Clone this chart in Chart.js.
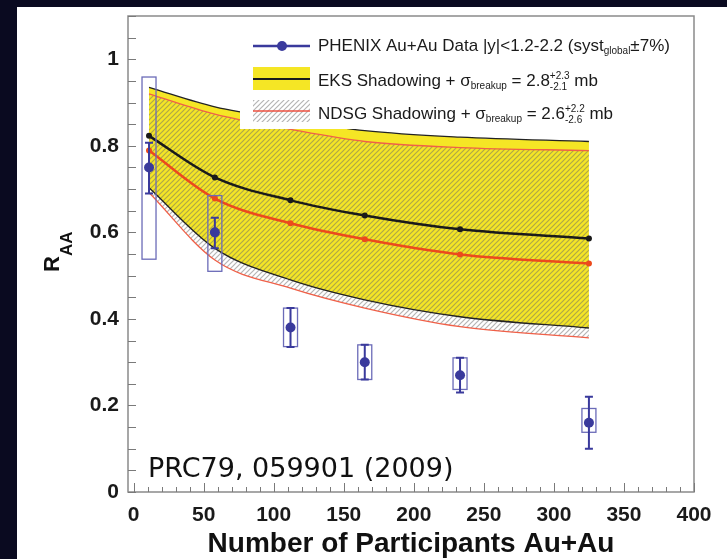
<!DOCTYPE html>
<html>
<head>
<meta charset="utf-8">
<script src="https://cdn.jsdelivr.net/npm/chart.js@4.4.1/dist/chart.umd.min.js"></script>
<style>
  html, body { margin: 0; padding: 0; background: #0a0a20; width: 727px; height: 559px; overflow: hidden; }
  #panel { position: absolute; left: 17px; top: 7px; width: 710px; height: 552px; background: #fff; }
</style>
</head>
<body>
<div id="panel"><canvas id="raa" width="710" height="552"></canvas></div>
<script>
// --- DATA ---
const npart = [11, 58, 112, 165, 233, 325];

// PHENIX Au+Au J/psi, forward rapidity
const phenixRaa = [0.75, 0.60, 0.38, 0.30, 0.27, 0.16];
const statLow   = [0.69, 0.563, 0.335, 0.26, 0.23, 0.10];
const statHigh  = [0.807, 0.634, 0.425, 0.34, 0.31, 0.22];
const systLow   = [0.538, 0.51, 0.336, 0.26, 0.237, 0.138];
const systHigh  = [0.959, 0.685, 0.425, 0.34, 0.31, 0.193];

// EKS shadowing band
const eksCenter = [0.823, 0.727, 0.674, 0.639, 0.607, 0.586];
const eksUpper  = [0.935, 0.89, 0.86, 0.835, 0.82, 0.81];
const eksLower  = [0.703, 0.563, 0.49, 0.444, 0.405, 0.379];

// NDSG shadowing band
const ndsgCenter = [0.789, 0.678, 0.621, 0.584, 0.549, 0.528];
const ndsgUpper  = [0.92, 0.873, 0.838, 0.81, 0.796, 0.789];
const ndsgLower  = [0.692, 0.536, 0.471, 0.425, 0.382, 0.356];

// axes
const xTickValues = [0, 50, 100, 150, 200, 250, 300, 350, 400];
const xTickLabels = ['0', '50', '100', '150', '200', '250', '300', '350', '400'];
const yTickValues = [0, 0.2, 0.4, 0.6, 0.8, 1];
const yTickLabels = ['0', '0.2', '0.4', '0.6', '0.8', '1'];

const SANS = '"Liberation Sans", Arial, Helvetica, sans-serif';
const BLUE = '#3a3a9c';

const canvas = document.getElementById('raa');
const ctx0 = canvas.getContext('2d');

function makeHatch() {
    const t = document.createElement('canvas');
    t.width = 5; t.height = 5;
    const g = t.getContext('2d');
    g.strokeStyle = 'rgba(105,105,105,0.5)';
    g.lineWidth = 1.2;
    g.beginPath();
    g.moveTo(0, 5); g.lineTo(5, 0);
    g.moveTo(-1, 1); g.lineTo(1, -1);
    g.moveTo(4, 6); g.lineTo(6, 4);
    g.stroke();
    return ctx0.createPattern(t, 'repeat');
}
const hatch = makeHatch();

const pts = ys => ys.map((y, i) => ({ x: npart[i], y: y }));

// --- rich text helper (sub / superscripts) ---
function drawRich(ctx, x, y, parts) {
    ctx.textBaseline = 'alphabetic';
    ctx.textAlign = 'left';
    parts.forEach(p => {
        if (p.sup !== undefined) {
            ctx.font = p.size + 'px ' + SANS;
            const w = Math.max(ctx.measureText(p.sup).width, ctx.measureText(p.sub).width);
            ctx.fillText(p.sup, x, y - 7);
            ctx.fillText(p.sub, x, y + 4);
            x += w;
        } else {
            ctx.font = (p.bold ? 'bold ' : '') + p.size + 'px ' + SANS;
            ctx.fillText(p.t, x, y + (p.dy || 0));
            x += ctx.measureText(p.t).width;
        }
    });
}

// frame + inward ticks
const framePlugin = {
    id: 'frame',
    afterDatasetsDraw(chart) {
        const { ctx, chartArea: a, scales: { x, y } } = chart;
        ctx.save();
        ctx.strokeStyle = '#8a8a8a';
        ctx.lineWidth = 1.5;
        ctx.strokeRect(a.left, a.top, a.right - a.left, a.bottom - a.top);
        ctx.lineWidth = 1;
        ctx.strokeStyle = '#7a7a7a';
        ctx.beginPath();
        for (let v = 0; v <= 1.1001; v += 0.05) {
            const py = Math.round(y.getPixelForValue(v)) + 0.5;
            ctx.moveTo(a.left, py); ctx.lineTo(a.left + 8, py);
        }
        for (let v = 0; v <= 400; v += 10) {
            const px = Math.round(x.getPixelForValue(v)) + 0.5;
            const len = v % 50 === 0 ? 9 : 5;
            ctx.moveTo(px, a.bottom); ctx.lineTo(px, a.bottom - len);
        }
        ctx.stroke();
        ctx.restore();
    }
};

// systematic boxes + statistical error bars for the PHENIX points
const errorPlugin = {
    id: 'errors',
    afterDatasetsDraw(chart) {
        const { ctx, scales: { x, y } } = chart;
        ctx.save();
        npart.forEach((n, i) => {
            const px = x.getPixelForValue(n);
            ctx.strokeStyle = '#6b6bb8';
            ctx.lineWidth = 1.3;
            const top = y.getPixelForValue(systHigh[i]);
            const bot = y.getPixelForValue(systLow[i]);
            ctx.strokeRect(px - 7, top, 14, bot - top);
            ctx.strokeStyle = BLUE;
            ctx.lineWidth = 2;
            const et = y.getPixelForValue(statHigh[i]);
            const eb = y.getPixelForValue(statLow[i]);
            ctx.beginPath();
            ctx.moveTo(px, et); ctx.lineTo(px, eb);
            ctx.moveTo(px - 4, et); ctx.lineTo(px + 4, et);
            ctx.moveTo(px - 4, eb); ctx.lineTo(px + 4, eb);
            ctx.stroke();
        });
        ctx.restore();
    }
};

// legend box
const legendPlugin = {
    id: 'legendBox',
    afterDatasetsDraw(chart) {
        const ctx = chart.ctx;
        ctx.save();
        ctx.fillStyle = '#fff';
        ctx.fillRect(223, 19, 392, 103);

        // PHENIX
        ctx.strokeStyle = BLUE; ctx.lineWidth = 2.5;
        ctx.beginPath(); ctx.moveTo(236, 39); ctx.lineTo(293, 39); ctx.stroke();
        ctx.fillStyle = BLUE;
        ctx.beginPath(); ctx.arc(265, 39, 5, 0, Math.PI * 2); ctx.fill();

        // EKS
        ctx.fillStyle = '#f5e625';
        ctx.fillRect(236, 60, 57, 23);
        ctx.strokeStyle = '#1a1a1a'; ctx.lineWidth = 2;
        ctx.beginPath(); ctx.moveTo(236, 72); ctx.lineTo(293, 72); ctx.stroke();

        // NDSG
        ctx.fillStyle = hatch;
        ctx.fillRect(236, 93, 57, 22);
        ctx.strokeStyle = '#ee5040'; ctx.lineWidth = 1.5;
        ctx.beginPath(); ctx.moveTo(236, 104); ctx.lineTo(293, 104); ctx.stroke();

        ctx.fillStyle = '#1a1a1a';
        drawRich(ctx, 301, 44, [
            { t: 'PHENIX Au+Au Data |y|<1.2-2.2 (syst', size: 17 },
            { t: 'global', size: 10, dy: 3 },
            { t: '\u00b17%)', size: 17 }
        ]);
        drawRich(ctx, 301, 79, [
            { t: 'EKS Shadowing + \u03c3', size: 17 },
            { t: 'breakup', size: 10, dy: 3 },
            { t: ' = 2.8', size: 17 },
            { sup: '+2.3', sub: '-2.1', size: 10 },
            { t: ' mb', size: 17 }
        ]);
        drawRich(ctx, 301, 112, [
            { t: 'NDSG Shadowing + \u03c3', size: 17 },
            { t: 'breakup', size: 10, dy: 3 },
            { t: ' = 2.6', size: 17 },
            { sup: '+2.2', sub: '-2.6', size: 10 },
            { t: ' mb', size: 17 }
        ]);
        ctx.restore();
    }
};

// y title R_AA and the reference note
const textPlugin = {
    id: 'texts',
    afterDraw(chart) {
        const ctx = chart.ctx;
        ctx.save();
        ctx.translate(42, 265);
        ctx.rotate(-Math.PI / 2);
        ctx.fillStyle = '#111';
        ctx.textBaseline = 'alphabetic';
        ctx.font = 'bold 22px ' + SANS;
        ctx.fillText('R', 0, 0);
        const w = ctx.measureText('R').width;
        ctx.font = 'bold 17px ' + SANS;
        ctx.fillText('AA', w, 13);
        ctx.restore();

        ctx.save();
        ctx.fillStyle = '#111';
        ctx.font = '27px "DejaVu Sans", sans-serif';
        ctx.textBaseline = 'alphabetic';
        ctx.fillText('PRC79, 059901 (2009)', 131, 470);
        ctx.restore();
    }
};

const lineBase = { pointRadius: 0, fill: false, cubicInterpolationMode: 'monotone' };

new Chart(canvas, {
    type: 'line',
    data: {
        datasets: [
            { label: 'PHENIX', data: pts(phenixRaa), showLine: false, pointRadius: 5,
              pointBackgroundColor: BLUE, pointBorderWidth: 0, borderColor: BLUE },
            { ...lineBase, label: 'NDSG', data: pts(ndsgCenter), borderColor: '#ec4a1c', borderWidth: 2.5,
              pointRadius: 3, pointBackgroundColor: '#ec4a1c', pointBorderWidth: 0 },
            { ...lineBase, label: 'EKS', data: pts(eksCenter), borderColor: '#1a1a1a', borderWidth: 2.5,
              pointRadius: 3, pointBackgroundColor: '#1a1a1a', pointBorderWidth: 0 },
            { ...lineBase, label: 'NDSG upper', data: pts(ndsgUpper), borderColor: '#f06048', borderWidth: 1.3,
              fill: { target: 4 }, backgroundColor: hatch },
            { ...lineBase, label: 'NDSG lower', data: pts(ndsgLower), borderColor: '#f06048', borderWidth: 1.3 },
            { ...lineBase, label: 'EKS upper', data: pts(eksUpper), borderColor: '#222', borderWidth: 1.3,
              fill: { target: 6 }, backgroundColor: '#f5e625' },
            { ...lineBase, label: 'EKS lower', data: pts(eksLower), borderColor: '#222', borderWidth: 1.3 }
        ]
    },
    options: {
        responsive: false,
        animation: false,
        layout: { padding: { left: 0, right: 33, top: 9, bottom: 0 } },
        plugins: {
            legend: { display: false },
            tooltip: { enabled: false },
            filler: { drawTime: 'beforeDatasetsDraw' }
        },
        scales: {
            x: {
                type: 'linear', min: -4, max: 400,
                grid: { display: false, drawTicks: false },
                border: { display: false },
                afterBuildTicks: s => { s.ticks = xTickValues.map(v => ({ value: v })); },
                afterFit: s => { s.height = 67; s.paddingLeft = 0; s.paddingRight = 0; },
                ticks: {
                    padding: 11, color: '#1a1a1a', maxRotation: 0,
                    font: { family: SANS, size: 21, weight: 'bold' },
                    callback: (v, i) => xTickLabels[i]
                },
                title: {
                    display: true, text: 'Number of Participants Au+Au', color: '#111',
                    font: { family: SANS, size: 28, weight: 'bold', lineHeight: 1.05 }, padding: 0
                }
            },
            y: {
                min: 0, max: 1.1,
                grid: { display: false, drawTicks: false },
                border: { display: false },
                afterBuildTicks: s => { s.ticks = yTickValues.map(v => ({ value: v })); },
                afterFit: s => { s.width = 111; s.paddingTop = 0; s.paddingBottom = 0; },
                ticks: {
                    padding: 9, color: '#1a1a1a',
                    font: { family: SANS, size: 21, weight: 'bold' },
                    callback: (v, i) => yTickLabels[i]
                }
            }
        }
    },
    plugins: [framePlugin, errorPlugin, legendPlugin, textPlugin]
});
</script>
</body>
</html>
